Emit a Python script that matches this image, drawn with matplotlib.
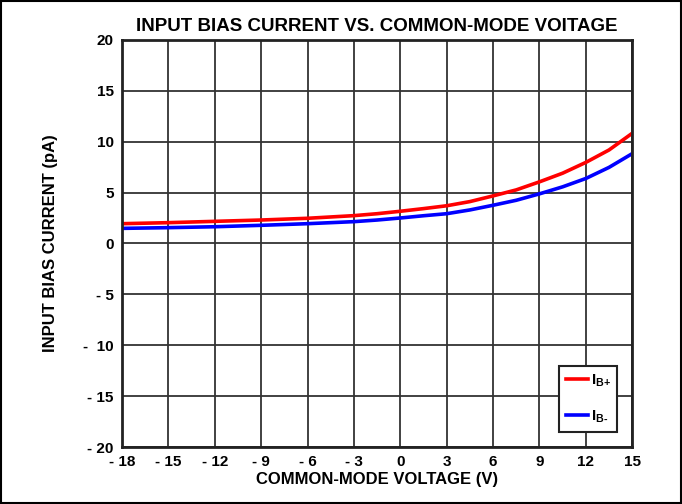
import matplotlib.pyplot as plt
from matplotlib.ticker import FixedLocator, FixedFormatter

plt.rcParams['font.family'] = ['Liberation Sans', 'DejaVu Sans']
plt.rcParams['font.weight'] = 'bold'
plt.rcParams['mathtext.fontset'] = 'custom'
plt.rcParams['mathtext.rm'] = 'Liberation Sans:bold'
plt.rcParams['mathtext.it'] = 'Liberation Sans:bold'
plt.rcParams['mathtext.bf'] = 'Liberation Sans:bold'

# datos
voltaje = [-18, -15, -12, -9, -6, -3, -1.5, 0, 1.5, 3, 4.5, 6, 7.5, 9, 10.5, 12, 13.5, 15]
corrienteMas = [1.94, 2.04, 2.17, 2.3, 2.47, 2.73, 2.92, 3.16, 3.42, 3.7, 4.11, 4.67, 5.26,
                6.05, 6.9, 7.96, 9.18, 10.82]
corrienteMenos = [1.48, 1.55, 1.64, 1.78, 1.94, 2.14, 2.3, 2.5, 2.72, 2.92, 3.29, 3.75, 4.24,
                  4.87, 5.56, 6.38, 7.47, 8.82]

xTicks = [-18, -15, -12, -9, -6, -3, 0, 3, 6, 9, 12, 15]
xEtiquetas = ["- 18", "- 15", "- 12", "- 9", "- 6", "- 3", "0", "3", "6", "9", "12", "15"]
yTicks = [-20, -15, -10, -5, 0, 5, 10, 15, 20]
yEtiquetas = ["- 20", "- 15", "-  10", "- 5", "0", "5", "10", "15", "20"]

fig = plt.figure(figsize=(6.82, 5.04), dpi=100)
ax = fig.add_axes([0.179, 0.113, 0.748, 0.808])

# marco exterior
fig.patches.append(plt.Rectangle((0.002, 0.002), 0.996, 0.996, transform=fig.transFigure,
                                 fill=False, edgecolor='black', linewidth=1.5))

ax.plot(voltaje, corrienteMas, color='#ff0000', linewidth=2.6, label=r'I$_{\text{B+}}$')
ax.plot(voltaje, corrienteMenos, color='#0000ff', linewidth=2.6, label=r'I$_{\text{B-}}$')

ax.set_xlim(-18, 15)
ax.set_ylim(-20, 20)
ax.xaxis.set_major_locator(FixedLocator(xTicks))
ax.xaxis.set_major_formatter(FixedFormatter(xEtiquetas))
ax.yaxis.set_major_locator(FixedLocator(yTicks))
ax.yaxis.set_major_formatter(FixedFormatter(yEtiquetas))
ax.tick_params(length=0, labelsize=11, pad=6)
ax.grid(True, color='#333333', linewidth=1.3)
ax.set_axisbelow(True)
for lado in ax.spines.values():
    lado.set_linewidth(2)
    lado.set_color('#222222')

ax.set_title("INPUT BIAS CURRENT VS. COMMON-MODE VOITAGE", fontsize=13.5, fontweight='bold', pad=6)
ax.set_xlabel("COMMON-MODE VOLTAGE (V)", fontsize=12, fontweight='bold', labelpad=2)
ax.set_ylabel("INPUT BIAS CURRENT (pA)", fontsize=12, fontweight='bold', labelpad=18)

leg = ax.legend(loc='lower right', bbox_to_anchor=(0.971, 0.037), fontsize=11, frameon=True,
                fancybox=False, edgecolor='#222222', handlelength=1.4, handletextpad=0.2,
                labelspacing=1.3, borderpad=0.45, borderaxespad=0)
leg.get_frame().set_linewidth(1.5)
leg.get_frame().set_alpha(1)

fig.savefig("out.png", dpi=100)
